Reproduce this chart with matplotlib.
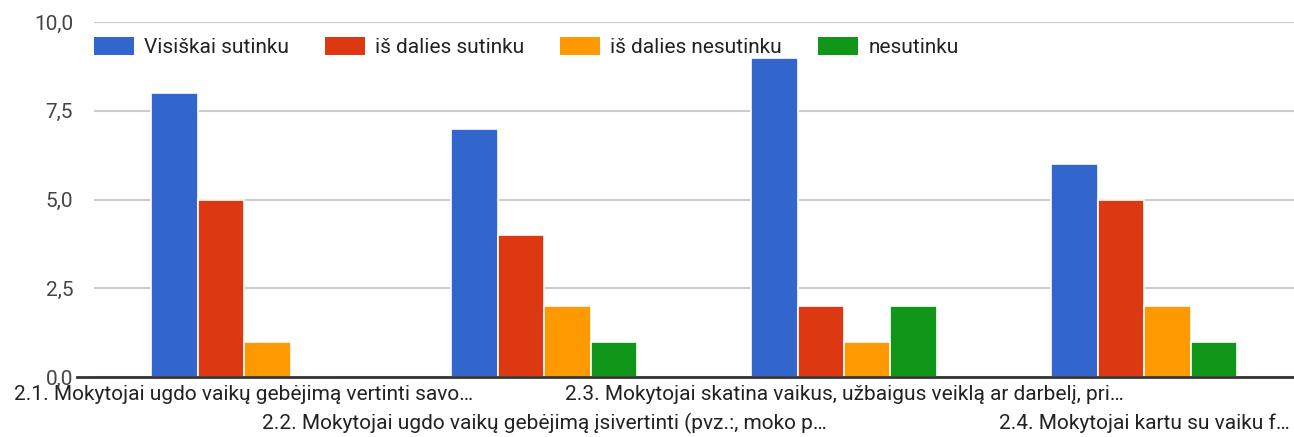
import numpy as np
import matplotlib
matplotlib.use("Agg")
import matplotlib.pyplot as plt
from matplotlib.patches import Patch
from matplotlib.ticker import FuncFormatter

plt.rcParams["font.family"] = ["Roboto", "DejaVu Sans"]

# data
questions = [
    "2.1. Mokytojai ugdo vaikų gebėjimą vertinti savo…",
    "2.2. Mokytojai ugdo vaikų gebėjimą įsivertinti (pvz.:, moko p…",
    "2.3. Mokytojai skatina vaikus, užbaigus veiklą ar darbelį, pri…",
    "2.4. Mokytojai kartu su vaiku f…",
]
series_names = ["Visiškai sutinku", "iš dalies sutinku", "iš dalies nesutinku", "nesutinku"]
visiskai = [8, 7, 9, 6]
is_dalies_sutinku = [5, 4, 2, 5]
is_dalies_nesutinku = [1, 2, 1, 2]
nesutinku = [0, 1, 2, 1]
colors = ["#3366cc", "#dc3912", "#ff9900", "#109618"]

series = [visiskai, is_dalies_sutinku, is_dalies_nesutinku, nesutinku]

fig = plt.figure(figsize=(12.94, 4.37), dpi=100)
ax = fig.add_axes([94 / 1294, 60 / 437, 1200 / 1294, 355 / 437])

x = np.arange(len(questions))
slot = 0.155
for i, (vals, col) in enumerate(zip(series, colors)):
    ax.bar(x + (i - 1.5) * slot, vals, width=slot, color=col,
           edgecolor="white", linewidth=1.2, zorder=3)

ax.set_xlim(-0.5, 3.5)
ax.set_ylim(0, 10)
ax.set_yticks([0, 2.5, 5, 7.5, 10])
ax.yaxis.set_major_formatter(FuncFormatter(lambda v, p: f"{v:.1f}".replace(".", ",")))
ax.grid(axis="y", color="#cccccc", linewidth=1.5, zorder=0)
ax.axhline(0, color="#333333", linewidth=2, zorder=4, xmin=-0.014, clip_on=False)

for s in ax.spines.values():
    s.set_visible(False)

# staggered category labels: 1st and 3rd on top row, 2nd and 4th below
fs = 15
ax.set_xticks([0, 2])
ax.set_xticklabels([questions[0], questions[2]])
ax.set_xticks([1, 3], minor=True)
ax.set_xticklabels([questions[1], questions[3]], minor=True)
ax.tick_params(axis="x", which="major", length=0, pad=6, labelsize=fs, labelcolor="#222222")
ax.tick_params(axis="x", which="minor", length=0, pad=26, labelsize=fs, labelcolor="#222222")
ax.tick_params(axis="y", length=0, pad=15, labelsize=fs, labelcolor="#444444")

handles = [Patch(facecolor=c, edgecolor="none") for c in colors]
ax.legend(handles, series_names, loc="center left", bbox_to_anchor=(0, 0.93),
          ncol=4, frameon=False, fontsize=fs, borderaxespad=0, borderpad=0,
          handlelength=1.92, handleheight=0.96, handletextpad=0.48,
          columnspacing=1.73, labelcolor="#222222")

fig.savefig("out.png", dpi=100)
